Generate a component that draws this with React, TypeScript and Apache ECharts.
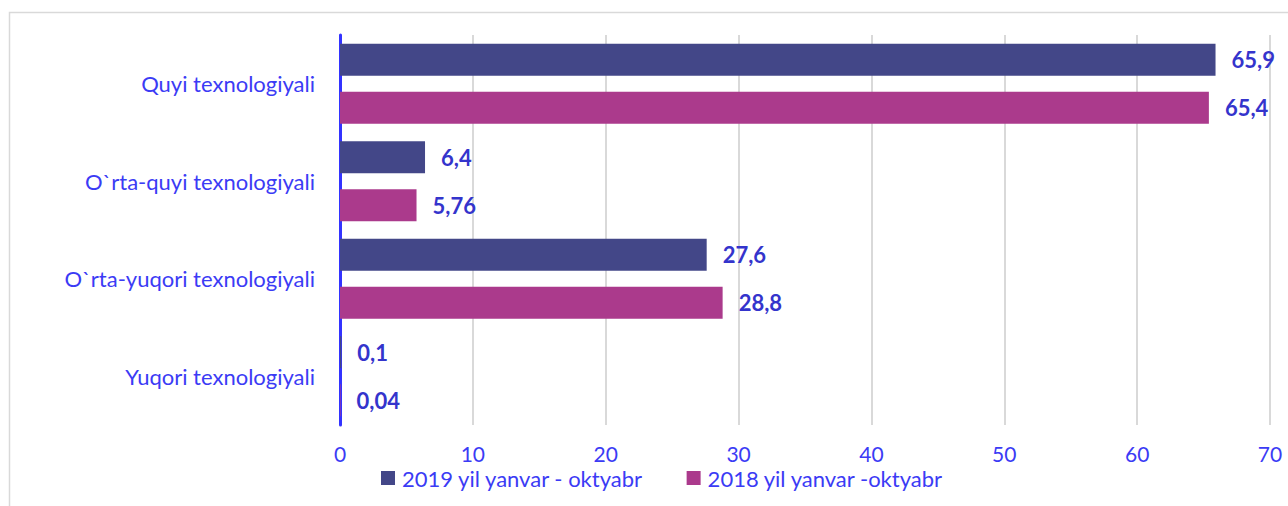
import React, { useEffect, useRef } from "react";
import * as echarts from "echarts";

const categories = ["Quyi texnologiyali", "O`rta-quyi texnologiyali", "O`rta-yuqori texnologiyali", "Yuqori texnologiyali"];
const series2019 = [65.9, 6.4, 27.6, 0.1];
const series2018 = [65.4, 5.76, 28.8, 0.04];
const labels2019 = ["65,9", "6,4", "27,6", "0,1"];
const labels2018 = ["65,4", "5,76", "28,8", "0,04"];
const seriesNames = ["2019 yil yanvar - oktyabr", "2018 yil yanvar -oktyabr"];

const FONT = "Lato";
const AXIS_BLUE = "#3b3bf5";
const LABEL_BLUE = "#3434cc";

export default function App() {
  const ref = useRef<HTMLDivElement>(null);
  useEffect(() => {
    const chart = echarts.init(ref.current!, null, { renderer: "svg" });
    const valueLabel = (labels: string[]) => ({
      show: true,
      position: "right",
      distance: 16,
      color: LABEL_BLUE,
      fontWeight: "bold",
      fontSize: 22,
      fontFamily: FONT,
      formatter: (p: any) => labels[p.dataIndex],
    });
    chart.setOption({
      animation: false,
      backgroundColor: "#ffffff",
      textStyle: { fontFamily: FONT },
      graphic: [
        {
          type: "rect",
          shape: { x: 9.5, y: 12.5, width: 1300, height: 520 },
          style: { fill: "none", stroke: "#d9d9d9", lineWidth: 1.5 },
          silent: true,
          z: -1,
        },
      ],
      grid: { left: 340, right: 18, top: 35, bottom: 81 },
      legend: {
        top: 467,
        left: 381,
        itemWidth: 14,
        itemHeight: 14,
        itemGap: 43,
        icon: "rect",
        padding: 0,
        textStyle: { color: AXIS_BLUE, fontSize: 22, lineHeight: 18, fontFamily: FONT, padding: [0, 0, 0, 2] },
        data: seriesNames,
      },
      xAxis: {
        type: "value",
        min: 0,
        max: 70,
        interval: 10,
        axisLine: { show: false },
        axisTick: { show: false },
        splitLine: { lineStyle: { color: "#d9d9d9", width: 2 } },
        axisLabel: { color: AXIS_BLUE, fontSize: 21, lineHeight: 18, margin: 19, fontFamily: FONT },
      },
      yAxis: {
        type: "category",
        inverse: true,
        data: categories,
        axisLine: { show: true, lineStyle: { color: "#3333ff", width: 3 } },
        axisTick: { show: false },
        axisLabel: { color: AXIS_BLUE, fontSize: 22, margin: 25, fontFamily: FONT },
      },
      series: [
        {
          name: seriesNames[0],
          type: "bar",
          data: series2019,
          barWidth: 32,
          barGap: "50%",
          itemStyle: { color: "#434788" },
          label: valueLabel(labels2019),
        },
        {
          name: seriesNames[1],
          type: "bar",
          data: series2018,
          barWidth: 32,
          barGap: "50%",
          itemStyle: { color: "#ab3a8c" },
          label: valueLabel(labels2018),
        },
      ],
    });
    return () => chart.dispose();
  }, []);
  return <div ref={ref} style={{ position: "fixed", left: 0, top: 0, width: 1288, height: 506 }} />;
}
